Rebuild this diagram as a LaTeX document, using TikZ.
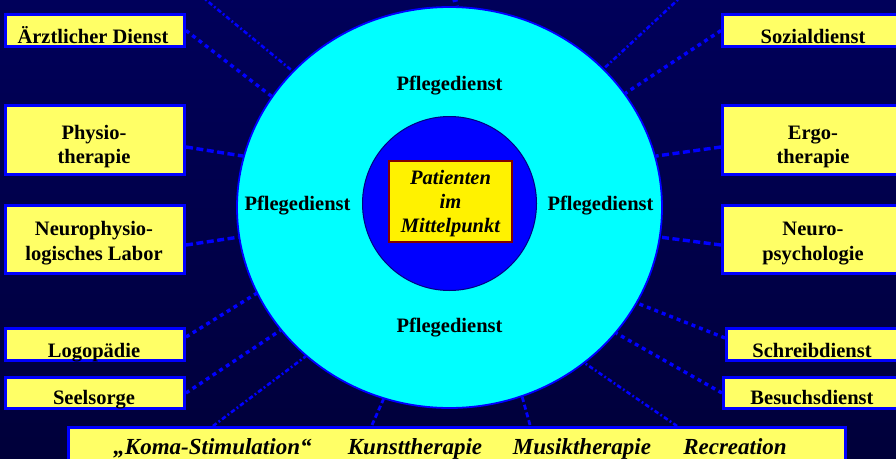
\documentclass[tikz,border=0pt]{standalone}
\usepackage{fontspec}
\setmainfont{Liberation Serif}
\usetikzlibrary{shapes.geometric,calc}
\definecolor{bgtop}{RGB}{0,0,90}
\definecolor{bgbot}{RGB}{0,0,58}
\definecolor{boxyel}{RGB}{255,255,102}
\definecolor{pblue}{RGB}{0,0,255}
\definecolor{pcyan}{RGB}{0,255,255}
\definecolor{dred}{RGB}{128,0,0}
\definecolor{pnavy}{RGB}{0,0,128}
\tikzset{
  svc/.style={draw=pblue, line width=3.3pt, fill=boxyel, minimum width=178.7pt, inner sep=0pt},
  lbl/.style={font=\bfseries\fontsize{20.5}{24}\selectfont, text=black, inner sep=0pt, anchor=base},
  ilbl/.style={lbl, font=\bfseries\itshape\fontsize{20.5}{24}\selectfont},
  blbl/.style={lbl, font=\bfseries\itshape\fontsize{23}{24}\selectfont},
  dotsq/.style={draw=pblue, line width=3.4pt, dash pattern=on 4pt off 4pt},
  dotthin/.style={draw=pblue, line width=2.8pt, dash pattern=on 5pt off 3pt},
  dotlong/.style={draw=pblue, line width=3.4pt, dash pattern=on 7pt off 3.5pt},
  dashdot/.style={draw=pblue, line width=2.6pt, dash pattern=on 4.5pt off 2.5pt on 1.8pt off 2.5pt},
}
\begin{document}
\begin{tikzpicture}[x=1pt,y=-1pt]
\useasboundingbox (0,0) rectangle (896,458);
\clip (0,0) rectangle (896,458);
\shade[top color=bgtop, bottom color=bgbot] (0,0) rectangle (896,458);

% central circles
\node[ellipse, draw=pblue, line width=1.8pt, fill=pcyan, minimum width=425pt, minimum height=401pt, inner sep=0pt] (big) at (449.5,207.5) {};
\node[circle, draw=pnavy, line width=1pt, fill=pblue, minimum size=174pt, inner sep=0pt] (inner) at (449.5,203.5) {};
\node[draw=dred, line width=2.3pt, fill=yellow, minimum width=122.7pt, minimum height=80.7pt, inner sep=0pt] (pat) at (450.5,201.5) {};
\node[ilbl] (pat1) at (450.5,184) {Patienten};
\node[ilbl] (pat2) at (450.5,208) {im};
\node[ilbl] (pat3) at (450.5,232) {Mittelpunkt};

\node[lbl] (pfT) at (449.5,90) {Pflegedienst};
\node[lbl] (pfL) at (297.5,210) {Pflegedienst};
\node[lbl] (pfR) at (600.5,210) {Pflegedienst};
\node[lbl] (pfB) at (449.5,332) {Pflegedienst};

% left boxes
\node[svc, minimum height=31.7pt] (aerzt) at (95,30.5) {};
\node[svc, minimum height=68.7pt] (physio) at (95,140) {};
\node[svc, minimum height=67.7pt] (nphys) at (95,239.5) {};
\node[svc, minimum height=31.7pt] (logo) at (95,344.5) {};
\node[svc, minimum height=30.7pt] (seel) at (95,393) {};
% right boxes
\node[svc, minimum height=31.7pt] (sozial) at (812,30.5) {};
\node[svc, minimum height=68.7pt] (ergo) at (812,140) {};
\node[svc, minimum height=67.7pt] (npsych) at (812,239.5) {};
\node[svc, minimum height=31.7pt] (schreib) at (816,344.5) {};
\node[svc, minimum height=30.7pt] (besuch) at (813,393) {};
% bottom bar
\node[svc, minimum width=776.7pt, minimum height=40.7pt] (bar) at (457,448) {};

% labels
\node[lbl] (t1) at (93,43) {Ärztlicher Dienst};
\node[lbl] (t2a) at (94,139) {Physio-};
\node[lbl] (t2b) at (94,163) {therapie};
\node[lbl] (t3a) at (94,235) {Neurophysio-};
\node[lbl] (t3b) at (94,260) {logisches Labor};
\node[lbl] (t4) at (94,357) {Logopädie};
\node[lbl] (t5) at (94,404) {Seelsorge};
\node[lbl] (t6) at (813,43) {Sozialdienst};
\node[lbl] (t7a) at (813,139) {Ergo-};
\node[lbl] (t7b) at (813,163) {therapie};
\node[lbl] (t8a) at (813,235) {Neuro-};
\node[lbl] (t8b) at (813,260) {psychologie};
\node[lbl] (t9) at (812,357) {Schreibdienst};
\node[lbl] (t10) at (812,404) {Besuchsdienst};
\node[blbl] (b1) at (212.5,454) {„Koma-Stimulation“};
\node[blbl] (b2) at (415,454) {Kunsttherapie};
\node[blbl] (b3) at (582,454) {Musiktherapie};
\node[blbl] (b4) at (735,454) {Recreation};

% free ends
\coordinate (tl) at (200,-5);
\coordinate (tr) at (683,-5);
\coordinate (tc) at (454.5,-2);
\coordinate (bk) at (213,426);
\coordinate (bku) at (372,425);
\coordinate (bmu) at (530,425);
\coordinate (bre) at (677,426);

% connectors
\draw[dotsq] (aerzt.east) -- (big.148.7);
\draw[dotlong] ([yshift=-7pt]physio.east) -- (big.166);
\draw[dotlong] ([yshift=-5.5pt]nphys.east) -- (big.188);
\draw[dotsq] ([yshift=7.5pt]logo.east) -- (big.204.9);
\draw[dotsq] (seel.east) -- (big.216.8);
\draw[dotsq] (sozial.west) -- (big.33.1);
\draw[dotlong] ([yshift=-7pt]ergo.west) -- (big.14.3);
\draw[dotlong] ([yshift=-5.5pt]npsych.west) -- (big.352.7);
\draw[dotsq] ([yshift=6.5pt]schreib.west) -- (big.333.2);
\draw[dotsq] (besuch.west) -- (big.323.5);
\draw[dashdot] (tl) -- (big.139.8);
\draw[dashdot] (tr) -- (big.42.4);
\draw[dotsq, line width=5pt] (tc) -- (big.88.6);
\draw[dashdot] (bk) -- (big.226.8);
\draw[dotthin] (bku) -- (big.251.6);
\draw[dotthin] (bmu) -- (big.291.6);
\draw[dashdot] (bre) -- (big.311.3);
\end{tikzpicture}
\end{document}
